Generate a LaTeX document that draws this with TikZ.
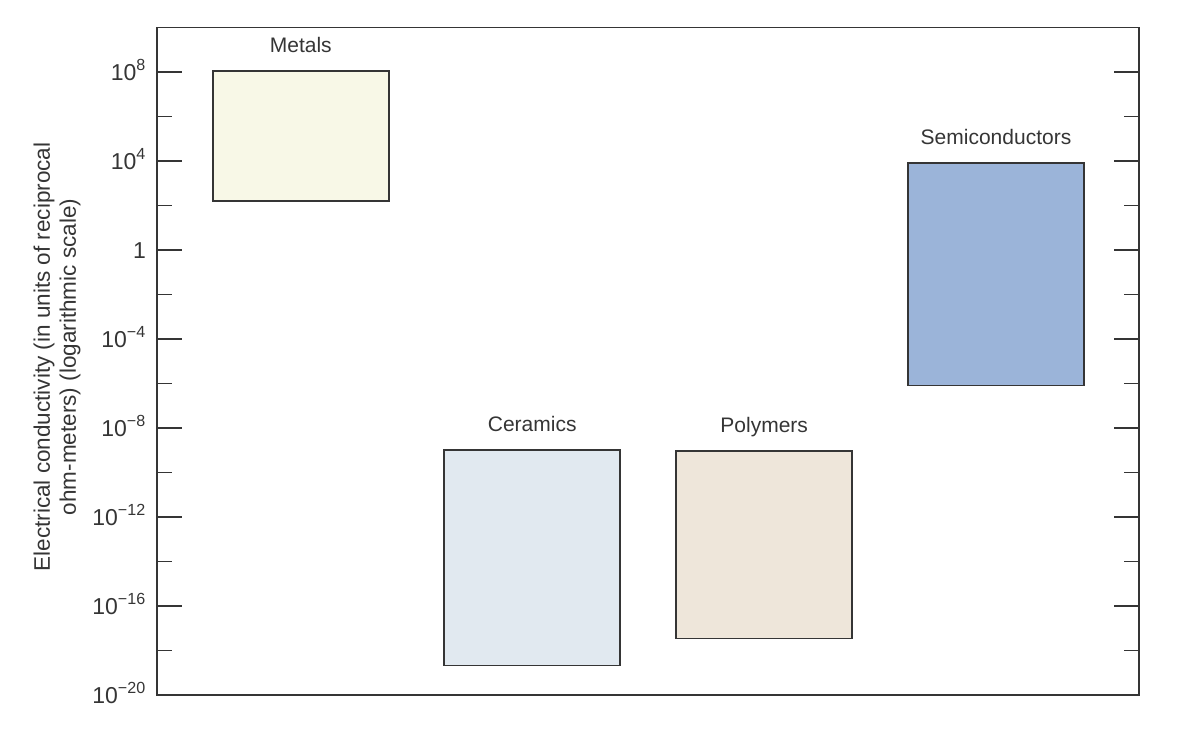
\documentclass[tikz,border=0pt]{standalone}
\usepackage{fontspec}
\setmainfont{Liberation Sans}
\usetikzlibrary{positioning}
\definecolor{inkgray}{HTML}{353535}
\definecolor{metalfill}{HTML}{F8F8E7}
\definecolor{ceramfill}{HTML}{E1E9F0}
\definecolor{polyfill}{HTML}{EEE6DA}
\definecolor{semifill}{HTML}{9BB4D9}
\begin{document}
\begin{tikzpicture}[x=1pt,y=-1pt,node distance=18pt,
			font=\fontsize{21}{26}\selectfont,text=inkgray]
			\tikzstyle{bar}=[draw=inkgray,line width=1.5pt,minimum width=176pt,inner sep=0pt,outer sep=0pt]
			\tikzstyle{lbl}=[inner sep=0pt,text height=15.5pt,text depth=0pt]
			\tikzstyle{tick}=[draw=inkgray,line width=1.2pt]
			
			\useasboundingbox (0,0) rectangle (1180,737);
			\draw[inkgray,line width=1.8pt] (157,27.5) rectangle (1139,695);
			
			% ticks every two decades, long ones every four
			\foreach \n in {0,...,13} {
				\pgfmathsetmacro{\len}{ifthenelse(mod(\n,2)==0,25,15)}
				\draw[tick] (157,72+\n*44.5) -- ++(\len,0);
				\draw[tick] (1139,72+\n*44.5) -- ++(-\len,0);
			}
			\foreach \n/\t in {0/10\textsuperscript{8},2/10\textsuperscript{4},4/1,
				6/10\textsuperscript{−4},8/10\textsuperscript{−8},10/10\textsuperscript{−12},
				12/10\textsuperscript{−16},14/10\textsuperscript{−20}}
				\node[anchor=base east,inner sep=0pt,font=\fontsize{23}{26}\selectfont] (t\n) at (146,80+\n*44.5) {\t};
			
			\node[rotate=90,align=center,font=\fontsize{22.5}{26}\selectfont] (ylab) at (57,357)
				{Electrical conductivity (in units of reciprocal\\ohm-meters) (logarithmic scale)};
			
			\node[bar,fill=metalfill,minimum height=130pt]   (metals) at (300.8,136)   {};
			\node[bar,fill=ceramfill,minimum height=215.7pt] (ceram)  at (532.2,557.8) {};
			\node[bar,fill=polyfill,minimum height=187.7pt]  (poly)   at (764.2,544.8) {};
			\node[bar,fill=semifill,minimum height=222.7pt]  (semi)   at (996,274.3)   {};
			
			\node[lbl] (metals_l) [above=of metals] {Metals};
			\node[lbl] (ceram_l)  [above=of ceram]  {Ceramics};
			\node[lbl] (poly_l)   [above=of poly]   {Polymers};
			\node[lbl] (semi_l)   [above=of semi]   {Semiconductors};
			\end{tikzpicture}
\end{document}
